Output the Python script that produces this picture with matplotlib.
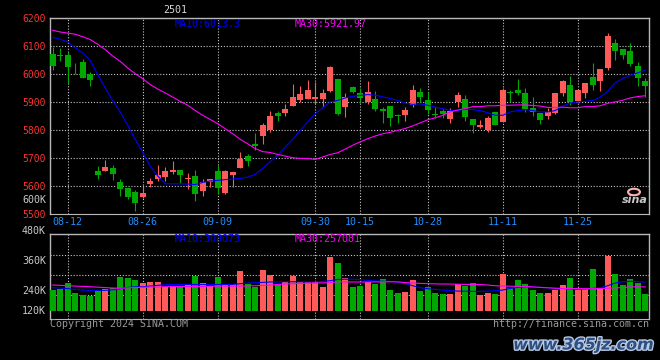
import matplotlib
matplotlib.use('Agg')
import matplotlib.pyplot as plt
from matplotlib.patches import Circle
import matplotlib.patheffects as pe

W, H = 660, 360

# ---- daily candles, contract 2501 (open, high, low, close) ----------------
OPEN = [6071, 6066, 6069, 6026, 6044, 6000, 5652, 5652, 5664, 5612,
        5591, 5576, 5559, 5605, 5624, 5631, 5650, 5656, 5624, 5634,
        5581, 5614, 5651, 5574, 5637, 5664, 5708, 5749, 5777, 5799,
        5860, 5861, 5887, 5908, 5912, 5910, 5912, 5938, 5983, 5881,
        5952, 5932, 5900, 5912, 5876, 5887, 5852, 5852, 5889, 5937,
        5905, 5858, 5869, 5837, 5898, 5912, 5837, 5810, 5798, 5862,
        5828, 5937, 5944, 5933, 5879, 5860, 5849, 5860, 5931, 5961,
        5902, 5931, 5990, 5976, 6020, 6111, 6090, 6082, 6029, 5976]
HIGH = [6098, 6093, 6079, 6040, 6052, 6006, 5672, 5691, 5673, 5623,
        5591, 5584, 5600, 5629, 5673, 5666, 5688, 5656, 5644, 5656,
        5623, 5625, 5673, 5656, 5648, 5719, 5712, 5787, 5826, 5868,
        5866, 5891, 5965, 5958, 5980, 5971, 5946, 6029, 5983, 5930,
        5958, 5950, 5976, 5938, 5883, 5887, 5857, 5883, 5962, 5951,
        5937, 5882, 5876, 5879, 5936, 5923, 5839, 5836, 5850, 5862,
        5951, 5944, 5983, 5948, 5916, 5860, 5879, 5933, 5979, 5992,
        5943, 5969, 6039, 6016, 6148, 6125, 6090, 6112, 6043, 5986]
LOW = [6013, 6045, 5967, 6000, 5986, 5956, 5624, 5651, 5619, 5562,
       5553, 5510, 5557, 5594, 5617, 5617, 5641, 5610, 5588, 5545,
       5563, 5597, 5569, 5572, 5597, 5662, 5669, 5728, 5751, 5792,
       5831, 5848, 5885, 5900, 5912, 5893, 5880, 5937, 5852, 5845,
       5932, 5901, 5891, 5869, 5824, 5812, 5824, 5833, 5881, 5900,
       5855, 5842, 5841, 5826, 5883, 5831, 5787, 5806, 5791, 5817,
       5828, 5900, 5925, 5864, 5848, 5820, 5838, 5855, 5920, 5888,
       5900, 5914, 5944, 5938, 6013, 6049, 6055, 6029, 5956, 5919]
CLOSE = [6027, 6064, 6024, 6023, 5987, 5979, 5638, 5666, 5641, 5587,
         5559, 5537, 5575, 5616, 5637, 5653, 5656, 5637, 5628, 5570,
         5612, 5624, 5592, 5651, 5648, 5694, 5688, 5743, 5816, 5848,
         5849, 5873, 5919, 5929, 5944, 5919, 5933, 6023, 5858, 5919,
         5937, 5913, 5937, 5876, 5866, 5842, 5848, 5872, 5941, 5919,
         5870, 5852, 5857, 5869, 5923, 5845, 5817, 5817, 5844, 5817,
         5944, 5931, 5930, 5873, 5864, 5835, 5863, 5933, 5973, 5900,
         5943, 5966, 5960, 6016, 6136, 6081, 6067, 6035, 5986, 5955]

# moving averages as drawn on the chart
MA10 = [6131, 6124, 6114, 6093, 6075, 6048, 5998, 5950, 5905, 5864,
        5816, 5766, 5720, 5670, 5635, 5607, 5607, 5607, 5606, 5604,
        5612, 5617, 5619, 5622, 5624, 5626, 5631, 5641, 5662, 5686,
        5710, 5738, 5766, 5798, 5829, 5857, 5879, 5900, 5905, 5914,
        5920, 5923, 5926, 5924, 5918, 5912, 5905, 5895, 5891, 5893,
        5888, 5881, 5876, 5869, 5869, 5874, 5872, 5869, 5861, 5852,
        5852, 5864, 5869, 5872, 5869, 5864, 5864, 5869, 5885, 5896,
        5900, 5902, 5905, 5917, 5938, 5968, 5983, 5995, 6004, 6013.3]
MA30 = [6156, 6150, 6146, 6142, 6133, 6123, 6106, 6087, 6064, 6045,
        6021, 6001, 5983, 5962, 5946, 5932, 5917, 5902, 5888, 5869,
        5852, 5837, 5822, 5804, 5786, 5766, 5750, 5733, 5722, 5719,
        5712, 5706, 5700, 5698, 5697, 5694, 5703, 5712, 5718, 5731,
        5745, 5757, 5768, 5778, 5786, 5791, 5798, 5805, 5814, 5825,
        5836, 5843, 5852, 5864, 5871, 5876, 5883, 5883, 5886, 5886,
        5888, 5888, 5889, 5889, 5887, 5885, 5880, 5880, 5881, 5879,
        5879, 5883, 5883, 5886, 5895, 5900, 5906, 5914, 5919, 5921.97]

# volume (thousand lots) and its moving averages
VOL = [224, 238, 299, 191, 170, 159, 216, 234, 245, 364,
       353, 332, 299, 310, 306, 252, 252, 252, 278, 375,
       299, 270, 364, 288, 288, 429, 288, 259, 440, 386,
       278, 313, 375, 306, 310, 310, 259, 580, 515, 353,
       256, 267, 306, 288, 342, 224, 191, 205, 332, 213,
       252, 191, 180, 180, 284, 267, 299, 170, 191, 180,
       396, 245, 332, 288, 224, 191, 191, 224, 278, 353,
       224, 234, 450, 245, 594, 396, 278, 342, 299, 180]
VMA10 = [248, 245, 239, 230, 223, 220, 220, 220, 225, 238,
         252, 259, 259, 266, 274, 281, 284, 284, 284, 284,
         284, 284, 284, 284, 284, 292, 299, 302, 306, 310,
         311, 313, 313, 312, 310, 310, 317, 324, 338, 340,
         340, 335, 328, 322, 319, 315, 311, 295, 270, 248,
         238, 230, 223, 216, 212, 211, 209, 209, 212, 216,
         223, 241, 252, 259, 256, 252, 248, 241, 239, 238,
         234, 234, 241, 248, 270, 299, 313, 318, 314, 308.073]
VMA30 = [277, 274, 270, 266, 263, 259, 254, 250, 245, 243,
         247, 250, 252, 256, 257, 259, 261, 261, 261, 261,
         261, 265, 265, 265, 265, 266, 268, 270, 274, 277,
         283, 288, 292, 295, 297, 299, 301, 302, 313, 311,
         310, 310, 310, 311, 311, 313, 311, 304, 299, 295,
         293, 290, 288, 288, 286, 284, 284, 283, 277, 270,
         266, 265, 263, 263, 257, 252, 248, 243, 241, 239,
         239, 238, 238, 239, 243, 247, 250, 257, 259, 257.081]

DATE_LABELS = ['08-12', '08-26', '09-09', '09-30', '10-15', '10-28', '11-11', '11-25']
DATE_IDX = [2, 12, 22, 35, 41, 50, 60, 70]       # trading-day index of each label
PRICE_TICKS = [6200, 6100, 6000, 5900, 5800, 5700, 5600, 5500]
VOL_LABELS = ['480K', '360K', '240K', '120K']

RED, GREEN = '#ff5a5a', '#00a800'
GRID = dict(color='#c8c8c8', lw=0.8, ls=(0, (1, 1.6)))
FRAME = '#b8b8b8'
MONO = 'DejaVu Sans Mono'


def fx(px):
    return px / W


def fy(py):
    return 1 - py / H


def style_frame(ax):
    ax.set_facecolor('black')
    for s in ('top', 'left', 'right'):
        ax.spines[s].set_color(FRAME)
        ax.spines[s].set_linewidth(1.0)
    ax.spines['bottom'].set_color(FRAME)
    ax.spines['bottom'].set_linestyle((0, (1, 1)))
    ax.grid(True, **GRID)
    ax.set_axisbelow(True)


fig = plt.figure(figsize=(W / 100, H / 100), dpi=100, facecolor='black')
ax_p = fig.add_axes([fx(50), fy(213.7), fx(649) - fx(50), fy(18) - fy(213.7)])
ax_v = fig.add_axes([fx(50), fy(318.7), fx(649) - fx(50), fy(234.3) - fy(318.7)])

n = len(CLOSE)
idx = list(range(n))
cols = [RED if c >= o else GREEN for o, c in zip(OPEN, CLOSE)]
xlim = (-0.36, n - 0.5)

# ---- price panel ----------------------------------------------------------
style_frame(ax_p)
ax_p.vlines(idx, LOW, HIGH, colors=cols, lw=0.8, zorder=3)
bodies = [max(abs(c - o), 3.5) for o, c in zip(OPEN, CLOSE)]
ax_p.bar(idx, bodies, bottom=[min(o, c) for o, c in zip(OPEN, CLOSE)],
         width=0.8, color=cols, lw=0, zorder=4)
ax_p.plot(idx, MA10, color='#0000ff', lw=0.8, zorder=5)
ax_p.plot(idx, MA30, color='#ff00ff', lw=0.8, zorder=5)
ax_p.set_xlim(*xlim)
ax_p.set_ylim(5500, 6200)
ax_p.set_yticks(PRICE_TICKS, [str(t) for t in PRICE_TICKS])
ax_p.set_xticks(DATE_IDX, DATE_LABELS)
ax_p.tick_params(axis='y', length=0, pad=2.8, labelcolor='#ff3030', labelsize=7, labelfontfamily=MONO)
ax_p.tick_params(axis='x', length=0, pad=2.6, labelcolor='#2090ff', labelsize=7.2, labelfontfamily=MONO)

# ---- volume panel ---------------------------------------------------------
style_frame(ax_v)
ax_v.bar(idx, VOL, width=0.8, color=cols, lw=0, zorder=3)
ax_v.plot(idx, VMA10, color='#0000ff', lw=0.8, zorder=5)
ax_v.plot(idx, VMA30, color='#ff00ff', lw=0.8, zorder=5)
ax_v.set_xlim(*xlim)
ax_v.set_ylim(-86, 825)
ax_v.set_xticks(DATE_IDX, [])
ax_v.set_yticks([166, 382, 598], [])
ax_v.tick_params(length=0)
for lab, py in zip(VOL_LABELS, [230.7, 260.7, 290.7, 310.7]):
    fig.text(fx(46), fy(py), lab, color='#c8c8c8', fontsize=7.2, family=MONO,
             ha='right', va='center')
fig.text(fx(46), fy(200), '600K', color='#c8c8c8', fontsize=7.2, family=MONO,
         ha='right', va='center')

# ---- legends and captions -------------------------------------------------
fig.text(fx(175), fy(10), '2501', color='#d8d8d8', fontsize=7.2, family=MONO,
         ha='center', va='center')
fig.text(fx(175), fy(24), f'MA10:{MA10[-1]:.1f}', color='#0000ff', fontsize=7.2,
         family=MONO, va='center')
fig.text(fx(295), fy(24), f'MA30:{MA30[-1]:.2f}', color='#ff00ff', fontsize=7.2,
         family=MONO, va='center')
fig.text(fx(175), fy(238.5), f'MA10:{round(VMA10[-1] * 1000)}', color='#0000ff',
         fontsize=7.2, family=MONO, va='center')
fig.text(fx(295), fy(238.5), f'MA30:{round(VMA30[-1] * 1000)}', color='#ff00ff',
         fontsize=7.2, family=MONO, va='center')
fig.text(fx(50), fy(324), 'Copyright 2024 SINA.COM', color='#9a9a9a', fontsize=7.2,
         family=MONO, va='center')
fig.text(fx(649), fy(324), 'http://finance.sina.com.cn', color='#9a9a9a', fontsize=7.2,
         family=MONO, ha='right', va='center')

# sina logo and site watermark
fig.patches.append(Circle((fx(634), fy(192)), 0.009, transform=fig.transFigure,
                          fill=False, ec='#ffb0b0', lw=1.5))
fig.text(fx(635), fy(200), 'sina', color='#c8c8c8', fontsize=8, weight='bold',
         style='italic', ha='center', va='center')
fig.text(fx(654), fy(345), 'www.365jz.com', color='#2c4f86', fontsize=11.5,
         weight='bold', style='italic', ha='right', va='center',
         path_effects=[pe.withStroke(linewidth=2, foreground='#b8c8e0')])

fig.savefig('out.png', dpi=100, facecolor='black')
